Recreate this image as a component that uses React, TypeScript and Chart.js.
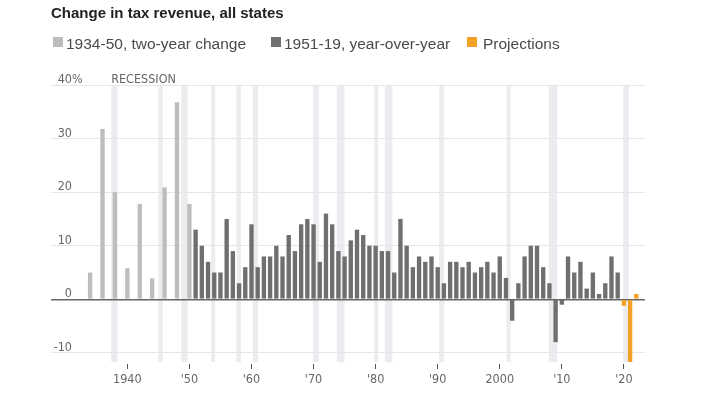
import React, { useEffect, useRef } from "react";
import { Chart, registerables } from "chart.js";

Chart.register(...registerables);

const TITLE = "Change in tax revenue, all states";
const LEGEND_LABELS = ["1934-50, two-year change", "1951-19, year-over-year", "Projections"];
const RECESSION_LABEL = "RECESSION";

// 1934-50, two-year change (even years)
const twoYearYears = [1934, 1936, 1938, 1940, 1942, 1944, 1946, 1948, 1950];
const twoYearValues = [5, 31.8, 20, 5.8, 17.8, 3.9, 20.9, 36.8, 17.8];

// 1951-2019, year-over-year
const annualYears = [
  1951, 1952, 1953, 1954, 1955, 1956, 1957, 1958, 1959, 1960,
  1961, 1962, 1963, 1964, 1965, 1966, 1967, 1968, 1969, 1970,
  1971, 1972, 1973, 1974, 1975, 1976, 1977, 1978, 1979, 1980,
  1981, 1982, 1983, 1984, 1985, 1986, 1987, 1988, 1989, 1990,
  1991, 1992, 1993, 1994, 1995, 1996, 1997, 1998, 1999, 2000,
  2001, 2002, 2003, 2004, 2005, 2006, 2007, 2008, 2009, 2010,
  2011, 2012, 2013, 2014, 2015, 2016, 2017, 2018, 2019,
];
const annualValues = [
  13, 10, 7, 5, 5, 15, 9, 3, 6, 14,
  6, 8, 8, 10, 8, 12, 9, 14, 15, 14,
  7, 16, 14, 9, 8, 11, 13, 12, 10, 10,
  9, 9, 5, 15, 10, 6, 8, 7, 8, 6,
  3, 7, 7, 6, 7, 5, 6, 7, 5, 8,
  4, -4, 3, 8, 10, 10, 6, 3, -8, -1,
  8, 5, 7, 2, 5, 1, 3, 8, 5,
];

// Projections
const projectionYears = [2020, 2021, 2022];
const projectionValues = [-1.2, -12, 1];

// Recession periods (fractional years)
const recessionStarts = [1937.4, 1945.0, 1948.7, 1953.5, 1957.6, 1960.2, 1969.9, 1973.75, 1979.8, 1981.5, 1990.25, 2001.1, 2007.9, 2019.9];
const recessionEnds = [1938.4, 1945.7, 1949.7, 1954.15, 1958.3, 1961.05, 1970.85, 1975.0, 1980.4, 1982.7, 1991.0, 2001.75, 2009.25, 2020.8];

const yTickValues = [-10, 0, 10, 20, 30, 40];
const xTickYears = [1940, 1950, 1960, 1970, 1980, 1990, 2000, 2010, 2020];
const xTickLabels = ["1940", "'50", "'60", "'70", "'80", "'90", "2000", "'10", "'20"];

const C_LIGHT = "#bdbdbd";
const C_DARK = "#6f6f6f";
const C_ORANGE = "#f2a126";
const NARROW = "'DejaVu Sans Condensed', 'Liberation Sans Narrow', sans-serif";
const SANS = "'Liberation Sans', Arial, sans-serif";
const TICK_SIZE = 12.5;

const bandsPlugin = {
  id: "recessionBands",
  beforeDraw(chart: any) {
    const { ctx, chartArea, scales } = chart;
    const x = scales.x;
    ctx.save();
    ctx.fillStyle = "#ececf0";
    for (let i = 0; i < recessionStarts.length; i++) {
      const x0 = x.getPixelForValue(recessionStarts[i]);
      const x1 = x.getPixelForValue(recessionEnds[i]);
      ctx.fillRect(x0, chartArea.top, x1 - x0, chartArea.bottom - chartArea.top);
    }
    ctx.restore();
  },
};

const labelsPlugin = {
  id: "yLabels",
  afterDatasetsDraw(chart: any) {
    const { ctx, chartArea, scales } = chart;
    const y = scales.y;
    const x = scales.x;
    ctx.save();
    ctx.font = `${TICK_SIZE}px ${NARROW}`;
    ctx.fillStyle = "#666";
    ctx.textBaseline = "alphabetic";
    const rx = chartArea.left + 21;
    yTickValues.forEach((v, i) => {
      const py = y.getPixelForValue(v) - 2;
      ctx.textAlign = "right";
      ctx.fillText(String(v), rx, py);
      if (i === yTickValues.length - 1) {
        ctx.textAlign = "left";
        ctx.fillText("%", rx, py);
      }
    });
    ctx.textAlign = "left";
    ctx.fillText(RECESSION_LABEL, x.getPixelForValue(recessionStarts[0]), y.getPixelForValue(40) - 2);
    ctx.restore();
  },
};

export default function App() {
  const ref = useRef<HTMLCanvasElement | null>(null);

  useEffect(() => {
    if (!ref.current) return;
    const barCommon = { barPercentage: 0.7, categoryPercentage: 1, grouped: false, borderWidth: 0 };
    const chart = new Chart(ref.current, {
      type: "bar",
      data: {
        datasets: [
          {
            label: LEGEND_LABELS[0],
            data: twoYearYears.map((yr, i) => ({ x: yr, y: twoYearValues[i] })),
            backgroundColor: C_LIGHT,
            ...barCommon,
          },
          {
            label: LEGEND_LABELS[1],
            data: annualYears.map((yr, i) => ({ x: yr, y: annualValues[i] })),
            backgroundColor: C_DARK,
            ...barCommon,
          },
          {
            label: LEGEND_LABELS[2],
            data: projectionYears.map((yr, i) => ({ x: yr, y: projectionValues[i] })),
            backgroundColor: C_ORANGE,
            ...barCommon,
          },
        ],
      } as any,
      options: {
        animation: false,
        responsive: false,
        maintainAspectRatio: false,
        layout: { padding: { left: 51, right: 56, top: 85, bottom: 7 } },
        plugins: {
          legend: { display: false },
          title: { display: false },
          tooltip: { enabled: false },
        },
        scales: {
          x: {
            type: "linear",
            min: 1927.7,
            max: 2023.4,
            offset: false,
            afterBuildTicks: (s: any) => {
              s.ticks = xTickYears.map((v) => ({ value: v }));
            },
            afterFit: (s: any) => {
              s.height = 24;
            },
            grid: {
              offset: false,
              drawOnChartArea: false,
              drawTicks: true,
              tickLength: 7,
              tickColor: "#555",
              tickWidth: 1,
              tickBorderDash: [0, 2, 5, 50],
            },
            border: { display: false },
            ticks: {
              autoSkip: false,
              maxRotation: 0,
              padding: 3,
              color: "#666",
              font: { family: NARROW, size: TICK_SIZE },
              callback: (v: any) => {
                const i = xTickYears.indexOf(Number(v));
                return i >= 0 ? xTickLabels[i] : "";
              },
            },
          },
          y: {
            min: -11.7,
            max: 40,
            afterBuildTicks: (s: any) => {
              s.ticks = yTickValues.map((v) => ({ value: v }));
            },
            afterFit: (s: any) => {
              s.width = 0;
            },
            ticks: { display: false },
            border: { display: false },
            grid: {
              drawTicks: false,
              color: (c: any) => (c.tick && c.tick.value === 0 ? "#666" : "#e6e6e6"),
              lineWidth: (c: any) => (c.tick && c.tick.value === 0 ? 1.5 : 1),
            },
          },
        },
      } as any,
      plugins: [bandsPlugin, labelsPlugin],
    });
    return () => chart.destroy();
  }, []);

  const legendItems = [
    { box: 53, text: 66, color: C_LIGHT, label: LEGEND_LABELS[0] },
    { box: 271, text: 284, color: C_DARK, label: LEGEND_LABELS[1] },
    { box: 467, text: 483, color: C_ORANGE, label: LEGEND_LABELS[2] },
  ];

  return (
    <div style={{ position: "fixed", left: 0, top: 0, width: 701, height: 393, background: "#fff", overflow: "hidden" }}>
      <canvas ref={ref} width={701} height={393} style={{ position: "absolute", left: 0, top: 0, width: 701, height: 393 }} />
      <div
        style={{
          position: "absolute",
          left: 51,
          top: 5,
          font: `bold 15px ${SANS}`,
          lineHeight: "15px",
          color: "#222",
          whiteSpace: "nowrap",
        }}
      >
        {TITLE}
      </div>
      {legendItems.map((it) => (
        <React.Fragment key={it.label}>
          <div style={{ position: "absolute", left: it.box, top: 37, width: 10, height: 10, background: it.color }} />
          <div
            style={{
              position: "absolute",
              left: it.text,
              top: 35.6,
              font: `15.5px ${SANS}`,
              lineHeight: "15px",
              color: "#4a4a4a",
              whiteSpace: "nowrap",
            }}
          >
            {it.label}
          </div>
        </React.Fragment>
      ))}
    </div>
  );
}
